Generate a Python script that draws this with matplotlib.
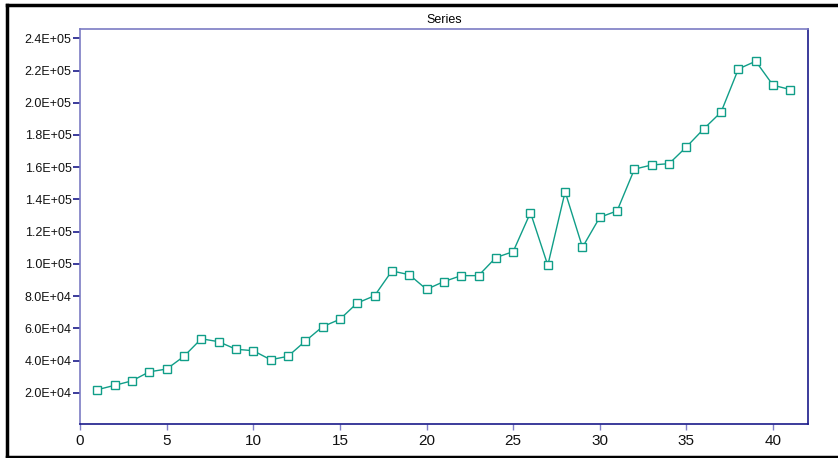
import matplotlib.pyplot as plt
from matplotlib.lines import Line2D
from matplotlib.ticker import FuncFormatter

# observation index and series values
obs = list(range(1, 42))
series = [21900, 24600, 27400, 33000, 34700, 42600, 53500, 51700, 47000, 46100,
          40500, 42600, 52000, 61000, 65600, 75700, 80200, 95600, 93300, 84200,
          89000, 92700, 92700, 103900, 107600, 131800, 99100, 144800, 110300, 128900,
          132900, 158800, 161400, 162200, 172600, 183800, 194200, 221000, 225800, 210900,
          208200]
ytick_vals = [20000, 40000, 60000, 80000, 100000, 120000, 140000, 160000, 180000,
              200000, 220000, 240000]
xtick_vals = [0, 5, 10, 15, 20, 25, 30, 35, 40]

plt.rcParams['font.family'] = ['Liberation Sans Narrow', 'Liberation Sans', 'DejaVu Sans']

W, H = 838, 458
fig = plt.figure(figsize=(W / 100, H / 100), dpi=100)
ax = fig.add_axes([80 / W, 1 - 424 / H, (807.7 - 80) / W, (424 - 29) / H])

teal = '#109e88'
ax.plot(obs, series, color=teal, linewidth=1.0, marker='s', markersize=5.5,
        markerfacecolor='white', markeredgecolor=teal, markeredgewidth=1.0)

ax.set_xlim(0, 42)
ax.set_ylim(600, 245800)
ax.set_xticks(xtick_vals)
ax.set_yticks(ytick_vals)
ax.yaxis.set_major_formatter(FuncFormatter(lambda v, p: f'{v:.1E}'))

ax.spines['left'].set_color('#7c7cc4')
ax.spines['top'].set_color('#7c7cc4')
ax.spines['bottom'].set_color('#1a1a8a')
ax.spines['right'].set_color('#1a1a8a')
for s in ax.spines.values():
    s.set_linewidth(1.2)
ax.tick_params(axis='y', direction='out', length=5, width=1.2, color='#1a1a8a',
               labelsize=9, pad=1, labelcolor='#111111')
ax.tick_params(axis='x', direction='out', length=4, width=1.0, color='#8080c8',
               labelsize=11, pad=3, labelcolor='#111111')

ax.set_title('Series', fontsize=9, pad=4)

# outer frame around the figure
fig.add_artist(Line2D([7 / W, 7 / W], [0, 1 - 5 / H], color='black', linewidth=2.5,
                      transform=fig.transFigure))
fig.add_artist(Line2D([7 / W, 1], [1 - 5 / H, 1 - 5 / H], color='black', linewidth=2.5,
                      transform=fig.transFigure))
fig.add_artist(Line2D([7 / W, 1], [1 - 457 / H, 1 - 457 / H], color='black', linewidth=2.5,
                      transform=fig.transFigure))

plt.savefig('out.png', dpi=100)
